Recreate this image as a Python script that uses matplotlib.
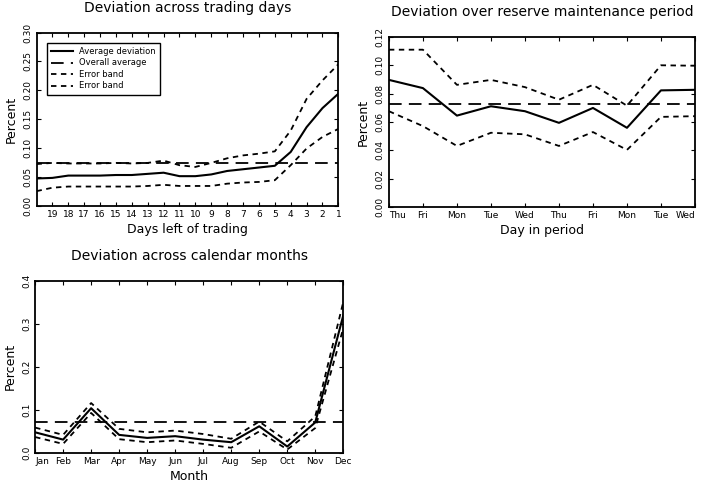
"""Deviation charts: trading days, reserve maintenance period, calendar months."""
import matplotlib
matplotlib.use("Agg")
import matplotlib.pyplot as plt
import numpy as np

# top-left: days left of trading (20 -> 1)
days_left = list(range(20, 0, -1))
days_avg = [0.047, 0.048, 0.052, 0.052, 0.052, 0.053, 0.053, 0.055, 0.057, 0.051,
            0.051, 0.054, 0.060, 0.063, 0.066, 0.069, 0.093, 0.136, 0.169, 0.194]
days_upper = [0.072, 0.074, 0.073, 0.073, 0.073, 0.074, 0.073, 0.074, 0.078, 0.070,
              0.067, 0.074, 0.082, 0.087, 0.090, 0.094, 0.130, 0.185, 0.217, 0.245]
days_lower = [0.025, 0.031, 0.033, 0.033, 0.033, 0.033, 0.033, 0.034, 0.036, 0.034,
              0.034, 0.034, 0.038, 0.040, 0.041, 0.044, 0.070, 0.099, 0.119, 0.133]

# top-right: day in reserve maintenance period
period_days = ["Thu", "Fri", "Mon", "Tue", "Wed", "Thu", "Fri", "Mon", "Tue", "Wed"]
period_avg = [0.0897, 0.0839, 0.0645, 0.0711, 0.0676, 0.0594, 0.0699, 0.0559, 0.0823, 0.0827]
period_upper = [0.111, 0.111, 0.0862, 0.0897, 0.0846, 0.0757, 0.0862, 0.0715, 0.100, 0.0997]
period_lower = [0.0676, 0.0571, 0.0431, 0.0524, 0.0513, 0.0431, 0.0529, 0.0403, 0.0636, 0.0641]

# bottom: calendar months
months = ["Jan", "Feb", "Mar", "Apr", "May", "Jun", "Jul", "Aug", "Sep", "Oct", "Nov", "Dec"]
month_avg = [0.048, 0.031, 0.104, 0.042, 0.035, 0.039, 0.031, 0.025, 0.062, 0.015, 0.071, 0.320]
month_upper = [0.059, 0.042, 0.116, 0.056, 0.048, 0.052, 0.044, 0.033, 0.073, 0.027, 0.085, 0.351]
month_lower = [0.037, 0.021, 0.093, 0.032, 0.025, 0.029, 0.021, 0.012, 0.050, 0.008, 0.058, 0.290]

overall_avg = 0.073

plt.rcParams['font.family'] = ['DejaVu Sans']

AVG_STYLE = dict(color="black", lw=1.5, linestyle="-")
OVR_STYLE = dict(color="black", lw=1.3, dashes=(7, 4))
BAND_STYLE = dict(color="black", lw=1.3, dashes=(3, 2.5))


def style_axes(ax, title, xlabel, yticks, yfmt):
    """Common frame, ticks and labels."""
    for s in ax.spines.values():
        s.set_linewidth(1.3)
    ax.tick_params(direction="in", top=True, right=True, length=3, width=0.8,
                   labelsize=6.5, pad=3)
    ax.set_yticks(yticks)
    ax.set_yticklabels([yfmt.format(v) for v in yticks])
    for lab in ax.get_yticklabels():
        lab.set_rotation(90)
        lab.set_va("center")
    ax.set_title(title, fontsize=10, pad=15)
    ax.set_xlabel(xlabel, fontsize=9, labelpad=3)
    ax.set_ylabel("Percent", fontsize=9, labelpad=4)


def draw(ax, x, avg, upper, lower):
    l1, = ax.plot(x, avg, **AVG_STYLE)
    l2, = ax.plot(x, [overall_avg] * len(x), **OVR_STYLE)
    l3, = ax.plot(x, upper, **BAND_STYLE)
    l4, = ax.plot(x, lower, **BAND_STYLE)
    return [l1, l2, l3, l4]


fig = plt.figure(figsize=(7.02, 4.86), dpi=100)

# top-left
ax1 = fig.add_axes([0.052, 0.577, 0.430, 0.356])
lines = draw(ax1, days_left, days_avg, days_upper, days_lower)
ax1.set_xlim(20, 1)
ax1.set_ylim(0, 0.30)
ax1.set_xticks(list(range(19, 0, -1)))
ax1.set_xticklabels([str(d) for d in range(19, 0, -1)])
style_axes(ax1, "Deviation across trading days", "Days left of trading",
           np.arange(0, 0.31, 0.05), "{:.2f}")
leg = ax1.legend(lines, ["Average deviation", "Overall average", "Error band", "Error band"],
                 loc="upper left", bbox_to_anchor=(0.02, 0.965), fontsize=6,
                 fancybox=False, edgecolor="black", framealpha=1, handlelength=2.6,
                 borderpad=0.5, labelspacing=0.3)
leg.get_frame().set_linewidth(1.0)

# top-right
ax2 = fig.add_axes([0.554, 0.574, 0.436, 0.350])
xp = np.arange(len(period_days))
draw(ax2, xp, period_avg, period_upper, period_lower)
ax2.set_xlim(0, len(period_days) - 1)
ax2.set_ylim(0, 0.12)
ax2.set_xticks(xp)
ax2.set_xticklabels(period_days)
style_axes(ax2, "Deviation over reserve maintenance period", "Day in period",
           np.arange(0, 0.121, 0.02), "{:.2f}")
ax2.get_xticklabels()[0].set_ha("left")
ax2.get_xticklabels()[-1].set_ha("right")

# bottom
ax3 = fig.add_axes([0.050, 0.068, 0.439, 0.354])
xm = np.arange(len(months))
draw(ax3, xm, month_avg, month_upper, month_lower)
ax3.set_xlim(0, len(months) - 1)
ax3.set_ylim(0, 0.4)
ax3.set_xticks(xm)
ax3.set_xticklabels(months)
style_axes(ax3, "Deviation across calendar months", "Month",
           np.arange(0, 0.41, 0.1), "{:.1f}")
ax3.get_xticklabels()[0].set_ha("left")

fig.savefig("out.png", dpi=100)
